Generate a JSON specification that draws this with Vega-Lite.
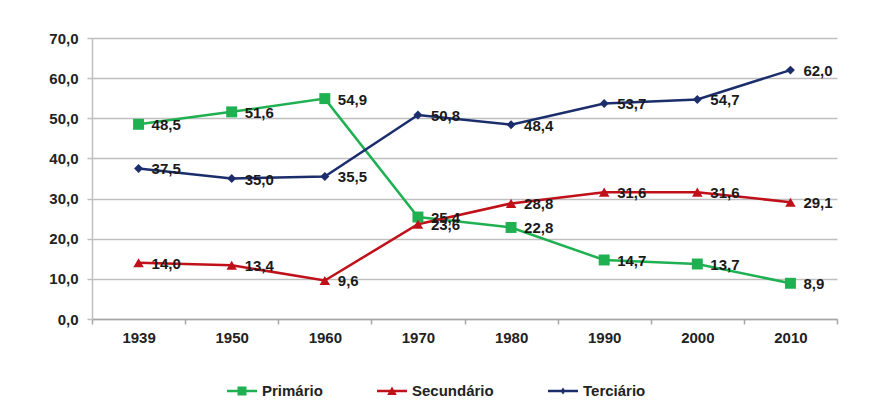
{
  "$schema": "https://vega.github.io/schema/vega-lite/v6.json",
  "width": 745,
  "height": 281,
  "autosize": {"type": "none"},
  "padding": {"left": 92, "top": 38, "right": 38, "bottom": 101},
  "background": "white",
  "config": {
    "locale": {"number": {"decimal": ",", "thousands": ".", "grouping": [3], "currency": ["R$", ""]}},
    "view": {"stroke": null},
    "font": "Liberation Sans"
  },
  "data": {
    "values": [
      {"ano": "1939", "setor": "Primário", "valor": 48.5},
      {"ano": "1950", "setor": "Primário", "valor": 51.6},
      {"ano": "1960", "setor": "Primário", "valor": 54.9},
      {"ano": "1970", "setor": "Primário", "valor": 25.4},
      {"ano": "1980", "setor": "Primário", "valor": 22.8},
      {"ano": "1990", "setor": "Primário", "valor": 14.7},
      {"ano": "2000", "setor": "Primário", "valor": 13.7},
      {"ano": "2010", "setor": "Primário", "valor": 8.9},
      {"ano": "1939", "setor": "Secundário", "valor": 14.0},
      {"ano": "1950", "setor": "Secundário", "valor": 13.4},
      {"ano": "1960", "setor": "Secundário", "valor": 9.6},
      {"ano": "1970", "setor": "Secundário", "valor": 23.6},
      {"ano": "1980", "setor": "Secundário", "valor": 28.8},
      {"ano": "1990", "setor": "Secundário", "valor": 31.6},
      {"ano": "2000", "setor": "Secundário", "valor": 31.6},
      {"ano": "2010", "setor": "Secundário", "valor": 29.1},
      {"ano": "1939", "setor": "Terciário", "valor": 37.5},
      {"ano": "1950", "setor": "Terciário", "valor": 35.0},
      {"ano": "1960", "setor": "Terciário", "valor": 35.5},
      {"ano": "1970", "setor": "Terciário", "valor": 50.8},
      {"ano": "1980", "setor": "Terciário", "valor": 48.4},
      {"ano": "1990", "setor": "Terciário", "valor": 53.7},
      {"ano": "2000", "setor": "Terciário", "valor": 54.7},
      {"ano": "2010", "setor": "Terciário", "valor": 62.0}
    ]
  },
  "encoding": {
    "x": {
      "field": "ano", "type": "ordinal", "title": null,
      "scale": {"type": "band", "paddingInner": 0, "paddingOuter": 0},
      "axis": {
        "labelAngle": 0, "tickBand": "extent", "tickSize": 5, "tickColor": "#a6a6a6",
        "domainColor": "#a6a6a6", "domainWidth": 1.5, "tickWidth": 1.5,
        "labelFont": "Liberation Sans", "labelFontSize": 15, "labelFontWeight": "bold",
        "labelColor": "#222222", "labelPadding": 6, "grid": false
      }
    },
    "y": {
      "field": "valor", "type": "quantitative", "title": null,
      "scale": {"domain": [0, 70], "nice": false},
      "axis": {
        "values": [0, 10, 20, 30, 40, 50, 60, 70], "format": ".1f",
        "domain": true, "domainColor": "#bfbfbf", "domainWidth": 1.5,
        "tickSize": 5, "tickColor": "#bfbfbf", "tickWidth": 1.5,
        "gridColor": "#bfbfbf", "gridWidth": 1.5,
        "labelFont": "Liberation Sans", "labelFontSize": 15, "labelFontWeight": "bold",
        "labelColor": "#222222", "labelPadding": 9
      }
    },
    "color": {
      "field": "setor", "type": "nominal",
      "scale": {"domain": ["Primário", "Secundário", "Terciário"], "range": ["#1fb052", "#c0101a", "#1c2d6b"]},
      "legend": {
        "orient": "none", "legendX": 135, "legendY": 338, "direction": "horizontal",
        "title": null, "symbolSize": 900, "columnPadding": 54, "labelOffset": 5,
        "labelFont": "Liberation Sans", "labelFontSize": 15, "labelFontWeight": "bold", "labelColor": "#222222",
        "encode": {
          "symbols": {
            "update": {
              "shape": {"signal": "datum.value === 'Primário' ? 'M-1,-0.09H1V0.09H-1Z M-0.3,-0.3H0.3V0.3H-0.3Z' : datum.value === 'Secundário' ? 'M-1,-0.09H1V0.09H-1Z M-0.32,0.27L0,-0.3L0.32,0.27Z' : 'M-1,-0.09H1V0.09H-1Z M0,-0.24L0.16,0L0,0.24L-0.16,0Z'"},
              "size": {"value": 900},
              "fill": {"scale": "color", "field": "value"},
              "fillOpacity": {"value": 1},
              "opacity": {"value": 1},
              "strokeWidth": {"value": 0}
            }
          }
        }
      }
    }
  },
  "layer": [
    {
      "mark": {"type": "line", "strokeWidth": 2.5}
    },
    {
      "transform": [{"filter": "datum.setor === 'Primário'"}],
      "mark": {"type": "point", "filled": true, "opacity": 1, "shape": "square", "size": 120}
    },
    {
      "transform": [{"filter": "datum.setor === 'Secundário'"}],
      "mark": {"type": "point", "filled": true, "opacity": 1, "shape": "triangle-up", "size": 110}
    },
    {
      "transform": [{"filter": "datum.setor === 'Terciário'"}],
      "mark": {"type": "point", "filled": true, "opacity": 1, "shape": "diamond", "size": 80}
    },
    {
      "mark": {"type": "text", "align": "left", "baseline": "middle", "dx": 13, "dy": 1, "fontSize": 15, "fontWeight": "bold", "font": "Liberation Sans"},
      "encoding": {
        "text": {"field": "valor", "type": "quantitative", "format": ".1f"},
        "color": {"value": "#1a1a1a"}
      }
    }
  ]
}
